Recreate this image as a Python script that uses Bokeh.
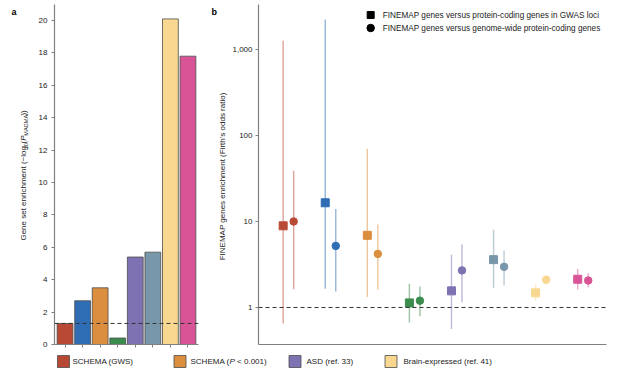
import numpy as np
from bokeh.plotting import figure
from bokeh.models import Range1d, FixedTicker, Span, ColumnDataSource
from bokeh.layouts import row, column
from bokeh.embed import file_html
from bokeh.resources import INLINE
from bokeh.core.properties import value

FONT = "Liberation Sans"

# ---------------- data ----------------
set_colors = ["#B84A35", "#2F6DB5", "#DB8E3E", "#3B8C4E", "#7E72B3", "#7897AA", "#F8D890", "#D95497"]
set_index = [1, 2, 3, 4, 5, 6, 7, 8]
magma_enrichment = [1.3, 2.7, 3.5, 0.4, 5.4, 5.7, 20.1, 17.8]
magma_threshold = 1.3
a_ticks = [0, 2, 4, 6, 8, 10, 12, 14, 16, 18, 20]

# panel b: Firth's odds ratios, square = vs GWAS-loci genes, circle = vs genome-wide genes
sq_or = [8.9, 16.5, 6.9, 1.13, 1.56, 3.6, 1.48, 2.13]
sq_lo = [0.65, 1.65, 1.32, 0.67, 0.56, 1.7, 1.2, 1.62]
sq_hi = [1260, 2230, 70, 1.89, 4.1, 8.0, 1.85, 2.8]
ci_or = [10.0, 5.2, 4.2, 1.2, 2.7, 2.97, 2.1, 2.06]
ci_lo = [1.63, 1.53, 1.62, 0.79, 1.15, 1.8, 1.85, 1.72]
ci_hi = [39, 14, 9.2, 1.75, 5.4, 4.6, 2.35, 2.5]
b_ticks = [1, 10, 100, 1000]
b_tick_labels = {1: "1", 10: "10", 100: "100", 1000: "1,000"}
b_null = 1

legend_sets = [0, 2, 4, 6]
b_legend_labels = ["FINEMAP genes versus protein-coding genes in GWAS loci",
                   "FINEMAP genes versus genome-wide protein-coding genes"]
b_axis_title = "FINEMAP genes enrichment (Firth's odds ratio)"

AXIS_COL = "#808080"
TXT_COL = "#222222"
P_H = 352


def style_axes(p):
    p.grid.visible = False
    p.outline_line_color = None
    p.background_fill_color = "white"
    p.border_fill_color = "white"
    for ax in p.axis:
        ax.axis_line_color = AXIS_COL
        ax.axis_line_width = 1.2
        ax.major_tick_line_color = AXIS_COL
        ax.minor_tick_line_color = None
        ax.major_tick_in = 0
        ax.major_tick_out = 3
        ax.major_label_text_font = FONT
        ax.major_label_text_font_size = "8px"
        ax.major_label_text_color = TXT_COL


def strip(width):
    s = figure(width=width, height=P_H, x_range=Range1d(0, width), y_range=Range1d(0, P_H),
               output_backend="svg", toolbar_location=None, min_border=0)
    s.axis.visible = False
    s.grid.visible = False
    s.outline_line_color = None
    return s


# ---------------- strip left of panel a: panel letter + y title ----------------
SA_W = 34
sa = strip(SA_W)
pieces_a = dict(
    t=["Gene set enrichment (\u2212log", "10", "(", "P", "MAGMA", "))"],
    fs=["8px", "5.5px", "8px", "8px", "5.5px", "8px"],
    st=["normal", "normal", "normal", "italic", "normal", "normal"],
    y=[107.6, 202.1, 208.2, 210.9, 216.2, 237.0],
    x=[23, 25, 23, 23, 25, 23],
)
sa.text(x="x", y="y", text="t", text_font_size="fs", text_font_style="st",
        source=ColumnDataSource(pieces_a), angle=np.pi / 2, text_font=value(FONT),
        text_color=TXT_COL, text_align="left", text_baseline="alphabetic")
sa.text(x=[11], y=[P_H - 3], text=["a"], text_font=value(FONT), text_font_size="9px",
        text_font_style="bold", text_color="black", text_align="left", text_baseline="top")

# ---------------- panel a ----------------
PA_W = 174
pa = figure(width=PA_W, height=P_H, x_range=Range1d(0.4, 8.6), y_range=Range1d(0, 20.99),
            output_backend="svg", toolbar_location=None,
            min_border_left=20, min_border_right=10, min_border_top=4, min_border_bottom=8)
style_axes(pa)
pa.vbar(x=set_index, top=magma_enrichment, width=0.9, fill_color=set_colors,
        line_color="#4d4d4d", line_width=0.8)
pa.add_layout(Span(location=magma_threshold, dimension="width", line_dash="4 3",
                   line_color="#333333", line_width=1))
pa.yaxis.ticker = FixedTicker(ticks=a_ticks)
pa.yaxis.major_label_standoff = 4
pa.xaxis.ticker = FixedTicker(ticks=[], minor_ticks=set_index)
pa.xaxis.minor_tick_line_color = AXIS_COL
pa.xaxis.minor_tick_in = 0
pa.xaxis.minor_tick_out = 3

# ---------------- strip left of panel b: panel letter + y title ----------------
SB_W = 21
sb = strip(SB_W)
sb.text(x=[14], y=[P_H / 2 - 2], text=[b_axis_title], angle=np.pi / 2, text_font=value(FONT),
        text_font_size="8px", text_color=TXT_COL, text_align="center", text_baseline="middle")
sb.text(x=[3], y=[P_H - 3], text=["b"], text_font=value(FONT), text_font_size="9px",
        text_font_style="bold", text_color="black", text_align="left", text_baseline="top")

# ---------------- panel b ----------------
PB_W = 411
B_LEFT, B_RIGHT_BORDER = 28, 34
BX = (0.289, 8.559)
BY = (0.371, 3337.0)
pb = figure(width=PB_W, height=P_H, x_range=Range1d(*BX), y_range=Range1d(*BY),
            y_axis_type="log", output_backend="svg", toolbar_location=None,
            min_border_left=B_LEFT, min_border_right=B_RIGHT_BORDER, min_border_top=4,
            min_border_bottom=8)
style_axes(pb)
pb.yaxis.ticker = FixedTicker(ticks=b_ticks)
pb.yaxis.major_label_overrides = b_tick_labels
pb.yaxis.major_label_standoff = 3
pb.xaxis.ticker = FixedTicker(ticks=[])
pb.xaxis.major_tick_out = 0

pb.add_layout(Span(location=b_null, dimension="width", line_dash="4 3",
                   line_color="#333333", line_width=1))

sq_x = [i - 0.125 for i in set_index]
ci_x = [i + 0.125 for i in set_index]
pb.segment(x0=sq_x, y0=sq_lo, x1=sq_x, y1=sq_hi, line_color=set_colors, line_alpha=0.5, line_width=1.4)
pb.segment(x0=ci_x, y0=ci_lo, x1=ci_x, y1=ci_hi, line_color=set_colors, line_alpha=0.5, line_width=1.4)
pb.scatter(x=sq_x, y=sq_or, marker="square", size=8, fill_color=set_colors, line_color=set_colors)
pb.scatter(x=ci_x, y=ci_or, marker="circle", size=7.5, fill_color=set_colors, line_color=set_colors)

# legend keys of panel b, placed by pixel offset inside the frame
frame_w = PB_W - B_LEFT - B_RIGHT_BORDER
frame_h = P_H - 4 - 8
lt, lb = np.log10(BY[1]), np.log10(BY[0])


def bx(px):
    return BX[0] + px * (BX[1] - BX[0]) / frame_w


def by(py):
    return 10 ** (lt - py * (lt - lb) / frame_h)


key_px = [112.5, 112.5]
key_py = [10.5, 23.5]
pb.scatter(x=[bx(key_px[0])], y=[by(key_py[0])], marker="square", size=7, color="black")
pb.scatter(x=[bx(key_px[1])], y=[by(key_py[1])], marker="circle", size=7.5, color="black")
pb.text(x=[bx(key_px[0] + 12.2)] * 2, y=[by(v) for v in key_py], text=b_legend_labels,
        text_font=value(FONT), text_font_size="8.2px", text_color=TXT_COL,
        text_align="left", text_baseline="middle")

# ---------------- bottom legend ----------------
TOT_W = SA_W + PA_W + SB_W + PB_W
LG_H = 369 - P_H
lg = figure(width=TOT_W, height=LG_H, x_range=Range1d(0, TOT_W), y_range=Range1d(0, LG_H),
            output_backend="svg", toolbar_location=None, min_border=0)
lg.axis.visible = False
lg.grid.visible = False
lg.outline_line_color = None
box_x = [63, 179.5, 294.5, 390.5]
box_y = LG_H - 9
lg.rect(x=box_x, y=[box_y] * 4, width=12, height=12,
        fill_color=[set_colors[i] for i in legend_sets], line_color="#4d4d4d", line_width=0.8)
txt_x = [72, 190, 229.1, 236.6, 306, 403]
txt_s = ["SCHEMA (GWS)", "SCHEMA (", "P", "< 0.001)", "ASD (ref. 33)", "Brain-expressed (ref. 41)"]
txt_st = ["normal", "normal", "italic", "normal", "normal", "normal"]
src = ColumnDataSource(dict(x=txt_x, y=[box_y] * 6, t=txt_s, st=txt_st))
lg.text(x="x", y="y", text="t", text_font_style="st", source=src, text_font=value(FONT),
        text_font_size="8px", text_color=TXT_COL, text_align="left", text_baseline="middle")

layout = column(row(sa, pa, sb, pb), lg)
open("out.html", "w").write(file_html(layout, INLINE))
